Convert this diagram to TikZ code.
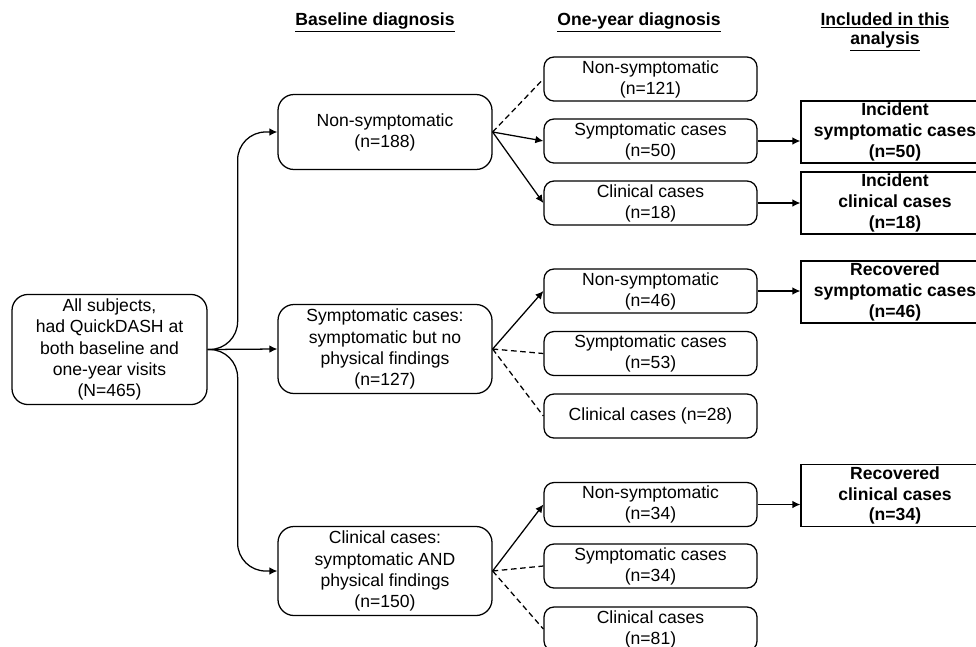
\documentclass[tikz,border=0pt]{standalone}
\usepackage{fontspec}
\setmainfont{Liberation Sans}
\usetikzlibrary{arrows.meta}
\tikzset{
  every node/.style={font=\fontsize{12.5}{15}\selectfont, align=center, line width=0.9pt},
  allbox/.style={draw, rounded corners=4mm, minimum width=48.75mm, minimum height=26.75mm},
  basebox/.style={draw, rounded corners=4mm, minimum width=53.5mm},
  yearbox/.style={draw, rounded corners=2.5mm, minimum width=53.25mm, minimum height=11mm, inner sep=1pt},
  inclbox/.style={draw, minimum width=47mm, minimum height=15.5mm, inner sep=1pt,
    font=\fontsize{12.5}{14.8}\selectfont\bfseries},
  hdr/.style={font=\fontsize{12.5}{14}\selectfont\bfseries},
  arr/.style={line width=0.9pt, -{Latex[length=2mm,width=1.9mm]}},
  dashline/.style={line width=0.9pt, dash pattern=on 1.4mm off 0.9mm}
}
\begin{document}
\begin{tikzpicture}[x=0.25mm,y=-0.25mm]
  \useasboundingbox (0,0) rectangle (976,646);
  % column headers
  \node[hdr] (hbase) at (375,22) {\underline{Baseline diagnosis}};
  \node[hdr] (hyear) at (639,22) {\underline{One-year diagnosis}};
  \node[hdr] (hincl) at (885,32) {\underline{Included in this}\\\underline{analysis}};
  % all subjects
  \node[allbox] (all) at (109.5,349.5) {All subjects,\\had QuickDASH at\\both baseline and\\one-year visits\\(N=465)};
  % baseline diagnosis
  \node[basebox, minimum height=18.75mm] (b1) at (385,132) {Non-symptomatic\\(n=188)};
  \node[basebox, minimum height=22mm] (b2) at (385,349) {Symptomatic cases:\\symptomatic but no\\physical findings\\(n=127)};
  \node[basebox, minimum height=22mm] (b3) at (385,571) {Clinical cases:\\symptomatic AND\\physical findings\\(n=150)};
  % one-year diagnosis
  \node[yearbox] (o11) at (650.5,79) {Non-symptomatic\\(n=121)};
  \node[yearbox] (o12) at (650.5,141) {Symptomatic cases\\(n=50)};
  \node[yearbox] (o13) at (650.5,203) {Clinical cases\\(n=18)};
  \node[yearbox] (o21) at (650.5,291) {Non-symptomatic\\(n=46)};
  \node[yearbox] (o22) at (650.5,353.5) {Symptomatic cases\\(n=53)};
  \node[yearbox] (o23) at (650.5,416) {Clinical cases (n=28)};
  \node[yearbox] (o31) at (650.5,504.5) {Non-symptomatic\\(n=34)};
  \node[yearbox] (o32) at (650.5,566) {Symptomatic cases\\(n=34)};
  \node[yearbox] (o33) at (650.5,629) {Clinical cases\\(n=81)};
  % included in this analysis
  \node[inclbox] (r1) at (895,132) {Incident\\symptomatic cases\\(n=50)};
  \node[inclbox] (r2) at (895,203) {Incident\\clinical cases\\(n=18)};
  \node[inclbox] (r3) at (895,292) {Recovered\\symptomatic cases\\(n=46)};
  \node[inclbox] (r4) at (895,495.5) {Recovered\\clinical cases\\(n=34)};
  % all subjects to baseline
  \draw[arr, rounded corners=7mm] (all.east) -- ++(30,0) |- (b1.west);
  \draw[arr] (all.east) -- (b2.west);
  \draw[arr, rounded corners=7mm] (all.east) -- ++(30,0) |- (b3.west);
  % baseline to one-year
  \draw[dashline] (b1.east) -- (o11.west);
  \draw[arr] (b1.east) -- (o12.west);
  \draw[arr] (b1.east) -- (o13.west);
  \draw[arr] (b2.east) -- (o21.west);
  \draw[dashline] (b2.east) -- (o22.west);
  \draw[dashline] (b2.east) -- (o23.west);
  \draw[arr] (b3.east) -- (o31.west);
  \draw[dashline] (b3.east) -- (o32.west);
  \draw[dashline] (b3.east) -- (o33.west);
  % one-year to included
  \draw[arr] (o12.east) -- (o12.east -| r1.west);
  \draw[arr] (o13.east) -- (o13.east -| r2.west);
  \draw[arr] (o21.east) -- (o21.east -| r3.west);
  \draw[arr] (o31.east) -- (o31.east -| r4.west);
\end{tikzpicture}
\end{document}
